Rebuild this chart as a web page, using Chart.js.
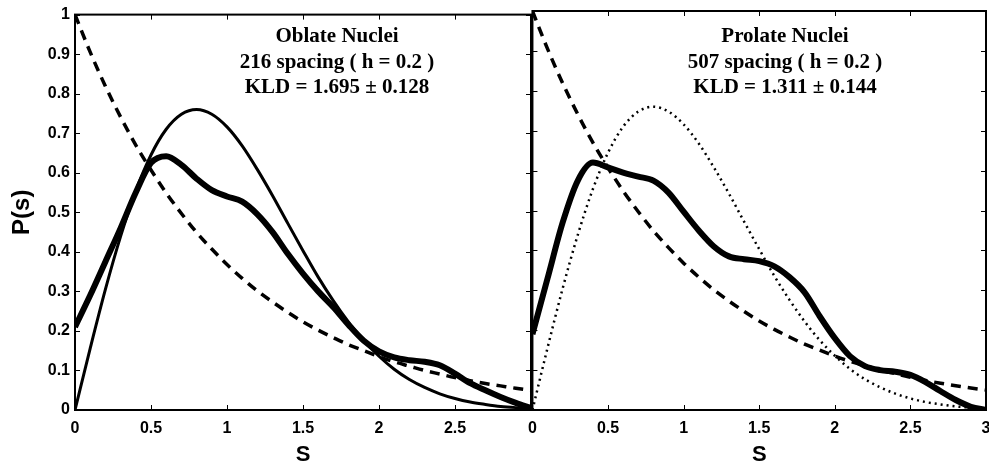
<!DOCTYPE html>
<html lang="en">
<head>
  <meta charset="UTF-8" />
  <title>P(s) - Oblate / Prolate Nuclei</title>
  <script src="https://cdn.jsdelivr.net/npm/chart.js"></script>
  <style>
    body { margin: 0; background: #fff; overflow: hidden; }
    #wrap { position: relative; width: 989px; height: 470px; overflow: hidden; }
    canvas { position: absolute; top: 0; }
    #left { left: 0; }
    #right { left: 519px; }
  </style>
</head>
<body>
  <div id="wrap">
    <canvas id="left" width="540" height="470"></canvas>
    <canvas id="right" width="483" height="470"></canvas>
  </div>

  <script>
    // s grid (0 .. 3, step 0.1)
    const sGrid = [0, 0.1, 0.2, 0.3, 0.4, 0.5, 0.6, 0.7, 0.8, 0.9, 1.0,
                   1.1, 1.2, 1.3, 1.4, 1.5, 1.6, 1.7, 1.8, 1.9, 2.0,
                   2.1, 2.2, 2.3, 2.4, 2.5, 2.6, 2.7, 2.8, 2.9, 3.0];

    // dashed curve (Poisson)
    const poisson = [1.0, 0.905, 0.819, 0.741, 0.670, 0.607, 0.549, 0.497, 0.449, 0.407, 0.368,
                     0.333, 0.301, 0.273, 0.247, 0.223, 0.202, 0.183, 0.165, 0.150, 0.135,
                     0.122, 0.111, 0.100, 0.091, 0.082, 0.074, 0.067, 0.061, 0.055, 0.050];

    // thin solid (left) / dotted (right) curve (Wigner)
    const wigner = [0.0, 0.156, 0.305, 0.439, 0.554, 0.645, 0.710, 0.748, 0.760, 0.748, 0.716,
                    0.668, 0.608, 0.542, 0.472, 0.403, 0.336, 0.276, 0.222, 0.175, 0.136,
                    0.103, 0.077, 0.057, 0.041, 0.029, 0.020, 0.014, 0.009, 0.006, 0.004];

    // thick curves
    const oblate = [0.21, 0.29, 0.375, 0.46, 0.55, 0.625, 0.642, 0.62, 0.585, 0.556, 0.54,
                    0.527, 0.495, 0.45, 0.395, 0.345, 0.30, 0.26, 0.215, 0.175, 0.148,
                    0.133, 0.126, 0.122, 0.113, 0.092, 0.068, 0.05, 0.033, 0.018, 0.005];

    const prolate = [0.19, 0.33, 0.47, 0.575, 0.62, 0.608, 0.595, 0.585, 0.575, 0.545, 0.497,
                     0.45, 0.41, 0.385, 0.378, 0.373, 0.36, 0.333, 0.295, 0.235, 0.18,
                     0.135, 0.11, 0.10, 0.096, 0.088, 0.07, 0.047, 0.025, 0.008, 0.0];

    const xTicksLeft = ['0', '0.5', '1', '1.5', '2', '2.5', ''];
    const xTicksRight = ['0', '0.5', '1', '1.5', '2', '2.5', '3'];
    const yTicks = ['0', '0.1', '0.2', '0.3', '0.4', '0.5', '0.6', '0.7', '0.8', '0.9', '1'];

    const notesLeft = ['Oblate Nuclei', '216 spacing ( h = 0.2 )', 'KLD = 1.695 \u00b1 0.128'];
    const notesRight = ['Prolate Nuclei', '507 spacing ( h = 0.2 )', 'KLD = 1.311 \u00b1 0.144'];

    const pts = arr => sGrid.map((s, i) => ({ x: s, y: arr[i] }));

    // box + inward ticks + text, matlab style
    const boxPlugin = {
      id: 'box',
      afterDraw(chart, args, opts) {
        const c = chart.ctx;
        const a = chart.chartArea;
        const xs = chart.scales.x, ys = chart.scales.y;
        c.save();
        c.strokeStyle = '#000';
        c.lineWidth = 1;
        c.beginPath();
        xs.ticks.forEach(t => {
          const px = Math.round(xs.getPixelForValue(t.value)) + 0.5;
          c.moveTo(px, a.bottom); c.lineTo(px, a.bottom - 5);
          c.moveTo(px, a.top); c.lineTo(px, a.top + 5);
        });
        ys.ticks.forEach(t => {
          const py = Math.round(ys.getPixelForValue(t.value)) + 0.5;
          c.moveTo(a.left, py); c.lineTo(a.left + 5, py);
          c.moveTo(a.right, py); c.lineTo(a.right - 5, py);
        });
        c.stroke();
        c.lineWidth = 2;
        c.strokeRect(a.left, a.top, a.right - a.left, a.bottom - a.top);

        c.fillStyle = '#000';
        c.font = 'bold 21px "Liberation Serif", "Times New Roman", serif';
        c.textAlign = 'center';
        c.textBaseline = 'alphabetic';
        opts.lines.forEach((txt, i) => c.fillText(txt, opts.cx, 42 + i * 25.5));
        c.restore();
      }
    };

    function makePanel(id, fitted, isLeft) {
      const ctx = document.getElementById(id).getContext('2d');
      const xLabels = isLeft ? xTicksLeft : xTicksRight;
      return new Chart(ctx, {
        type: 'line',
        data: {
          datasets: [
            {
              label: 'fit',
              data: pts(fitted),
              borderColor: '#000',
              borderWidth: 6,
              pointRadius: 0,
              cubicInterpolationMode: 'monotone',
              fill: false
            },
            {
              label: 'Wigner',
              data: pts(wigner),
              borderColor: '#000',
              borderWidth: isLeft ? 3 : 2.5,
              borderDash: isLeft ? [] : [2, 4],
              pointRadius: 0,
              cubicInterpolationMode: 'monotone',
              fill: false
            },
            {
              label: 'Poisson',
              data: pts(poisson),
              borderColor: '#000',
              borderWidth: 3.5,
              borderDash: [10, 7],
              pointRadius: 0,
              cubicInterpolationMode: 'monotone',
              fill: false
            }
          ]
        },
        options: {
          responsive: false,
          animation: false,
          layout: { padding: { top: 11, right: isLeft ? 9 : 16, left: 0, bottom: 0 } },
          plugins: {
            legend: { display: false },
            tooltip: { enabled: false },
            box: { lines: isLeft ? notesLeft : notesRight, cx: isLeft ? 337 : 266 }
          },
          scales: {
            x: {
              type: 'linear',
              min: 0, max: 3,
              grid: { display: false, drawTicks: false },
              border: { display: false },
              ticks: {
                stepSize: 0.5,
                autoSkip: false,
                maxRotation: 0,
                padding: 9,
                color: '#000',
                font: { family: 'Liberation Sans', weight: 'bold', size: 16 },
                callback: (v, i) => xLabels[i]
              },
              title: {
                display: true,
                text: 'S',
                color: '#000',
                padding: { top: 0, bottom: 2 },
                font: { family: 'Liberation Sans', weight: 'bold', size: 22 }
              },
              afterFit: s => { s.height = 60; }
            },
            y: {
              min: 0, max: 1,
              grid: { display: false, drawTicks: false },
              border: { display: false },
              ticks: {
                display: isLeft,
                stepSize: 0.1,
                autoSkip: false,
                padding: 5,
                color: '#000',
                font: { family: 'Liberation Sans', weight: 'bold', size: 16 },
                callback: (v, i) => yTicks[i]
              },
              title: {
                display: isLeft,
                text: 'P(s)',
                color: '#000',
                padding: { top: 8, bottom: 0 },
                font: { family: 'Liberation Sans', weight: 'bold', size: 24 }
              },
              afterFit: s => { s.width = isLeft ? 75 : 0; }
            }
          }
        },
        plugins: [boxPlugin]
      });
    }

    makePanel('left', oblate, true);
    makePanel('right', prolate, false);
  </script>
</body>
</html>
